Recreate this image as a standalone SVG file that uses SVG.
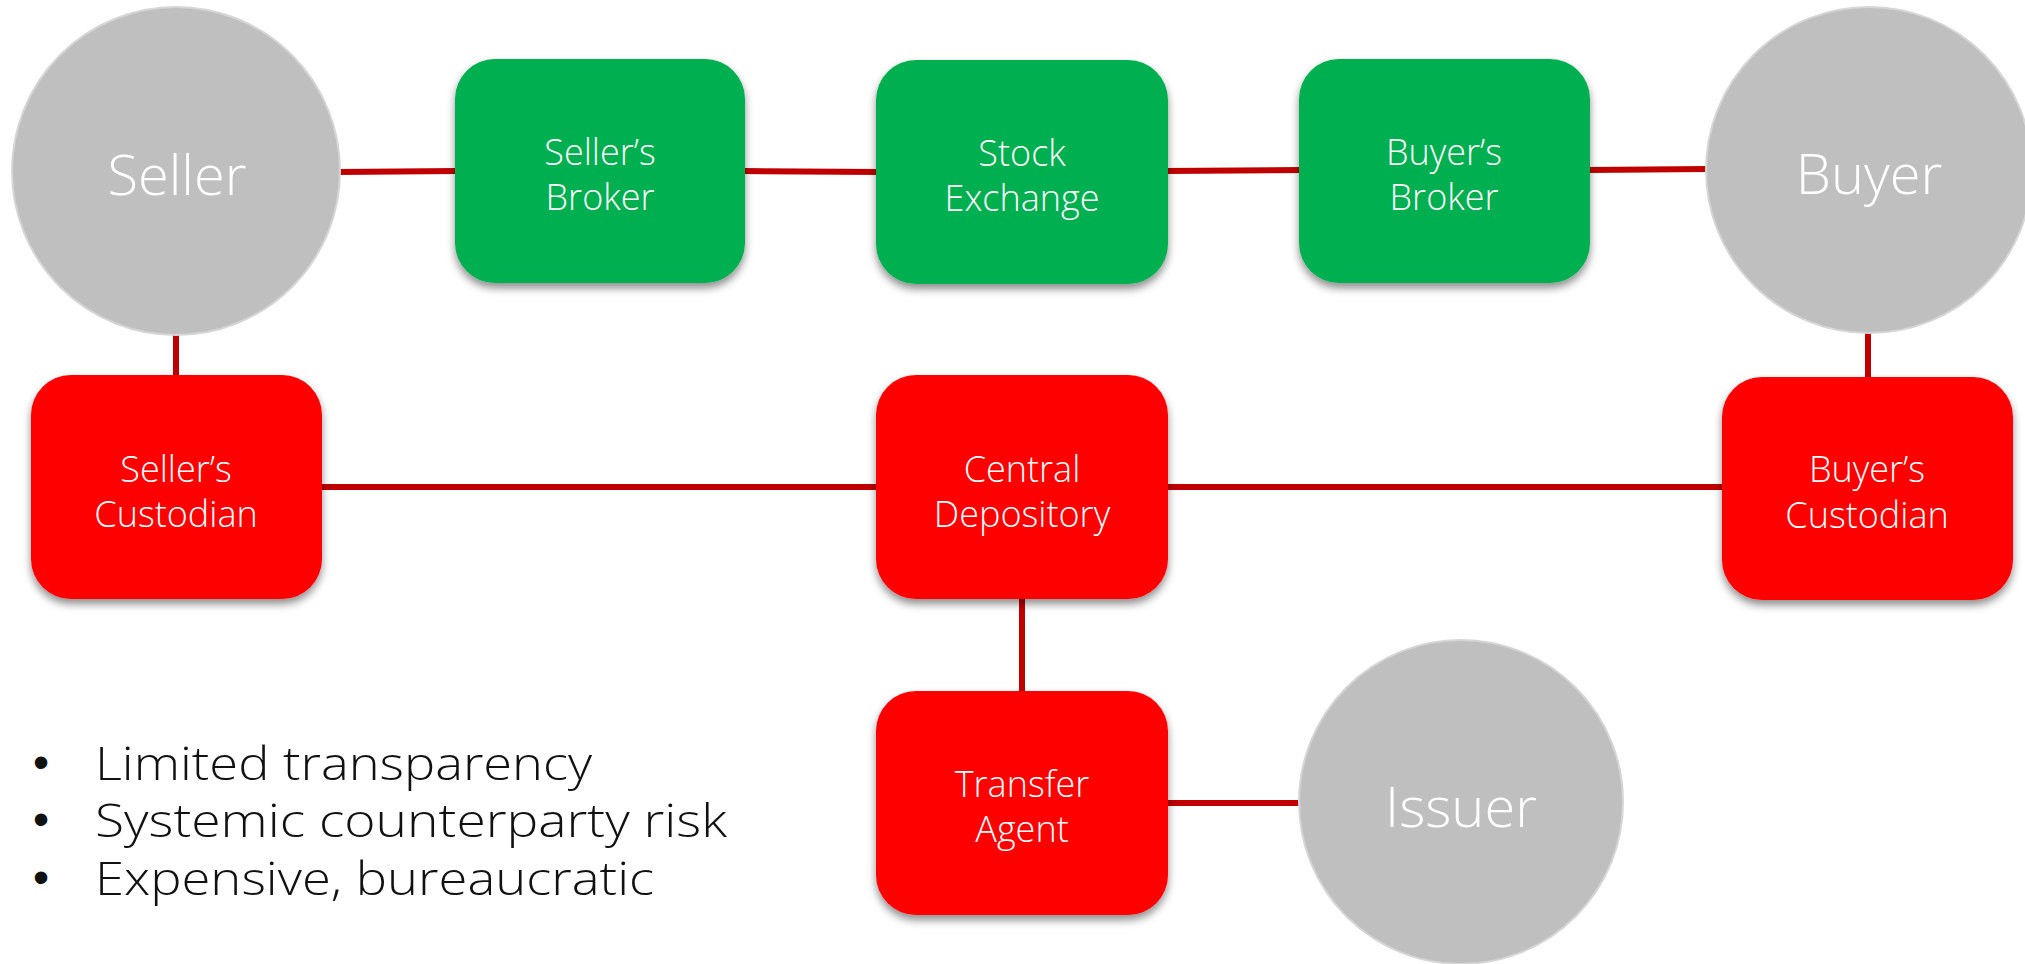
<svg xmlns="http://www.w3.org/2000/svg" width="2025" height="964" viewBox="0 0 2025 964">
  <defs>
    <filter id="shadow" x="-10%" y="-10%" width="120%" height="125%">
      <feDropShadow dx="0" dy="5" stdDeviation="4" flood-color="#000" flood-opacity="0.45"/>
    </filter>
    <style>
      .box-green { fill: #00AF50; filter: url(#shadow); }
      .box-red { fill: #FE0000; filter: url(#shadow); }
      .party { fill: #BFBFBF; stroke: #D6D6D6; stroke-width: 2; }
      .label { font-family: "Open Sans", Lato, sans-serif; font-weight: 300; fill: #FFFFFF; text-anchor: middle; }
      .box-label { font-size: 36px; }
      .party-label { font-size: 56px; }
      .link { stroke: #C00000; stroke-width: 6; fill: none; }
      .note { font-family: "Open Sans", Lato, sans-serif; font-weight: 300; font-size: 46px; fill: #111111; }
      .dot { font-family: "Liberation Sans", Arial, sans-serif; font-size: 46px; fill: #111111; }
    </style>
  </defs>

  <rect width="2025" height="964" fill="#FFFFFF"/>

  <!-- connectors -->
  <g id="connectors">
    <line class="link" x1="338" y1="172" x2="457" y2="171"/>
    <line class="link" x1="743" y1="171" x2="878" y2="172"/>
    <line class="link" x1="1166" y1="171" x2="1301" y2="170"/>
    <line class="link" x1="1588" y1="170" x2="1707" y2="169"/>
    <line class="link" x1="176" y1="333" x2="176" y2="377"/>
    <line class="link" x1="320" y1="487" x2="878" y2="487"/>
    <line class="link" x1="1166" y1="487" x2="1724" y2="487"/>
    <line class="link" x1="1868" y1="331" x2="1868" y2="379"/>
    <line class="link" x1="1022" y1="596" x2="1022" y2="693"/>
    <line class="link" x1="1166" y1="803" x2="1301" y2="803"/>
  </g>

  <!-- parties -->
  <g id="seller">
    <circle class="party" cx="176" cy="171" r="164"/>
    <text class="label party-label" x="177" y="195">Seller</text>
  </g>
  <g id="buyer">
    <circle class="party" cx="1869" cy="170" r="163"/>
    <text class="label party-label" x="1869" y="194">Buyer</text>
  </g>
  <g id="issuer">
    <circle class="party" cx="1461" cy="802" r="162"/>
    <text class="label party-label" x="1461" y="827">Issuer</text>
  </g>

  <!-- trading chain -->
  <g id="sellers-broker">
    <rect class="box-green" x="455" y="59" width="290" height="224" rx="40" ry="40"/>
    <text class="label box-label" x="600" y="165">Seller’s</text>
    <text class="label box-label" x="600" y="210">Broker</text>
  </g>
  <g id="stock-exchange">
    <rect class="box-green" x="876" y="60" width="292" height="224" rx="40" ry="40"/>
    <text class="label box-label" x="1022" y="166">Stock</text>
    <text class="label box-label" x="1022" y="211">Exchange</text>
  </g>
  <g id="buyers-broker">
    <rect class="box-green" x="1299" y="59" width="291" height="224" rx="40" ry="40"/>
    <text class="label box-label" x="1444" y="165">Buyer’s</text>
    <text class="label box-label" x="1444" y="210">Broker</text>
  </g>

  <!-- settlement chain -->
  <g id="sellers-custodian">
    <rect class="box-red" x="31" y="375" width="291" height="224" rx="40" ry="40"/>
    <text class="label box-label" x="176" y="482">Seller’s</text>
    <text class="label box-label" x="176" y="527">Custodian</text>
  </g>
  <g id="central-depository">
    <rect class="box-red" x="876" y="375" width="292" height="224" rx="40" ry="40"/>
    <text class="label box-label" x="1022" y="482">Central</text>
    <text class="label box-label" x="1022" y="527">Depository</text>
  </g>
  <g id="buyers-custodian">
    <rect class="box-red" x="1722" y="377" width="291" height="223" rx="40" ry="40"/>
    <text class="label box-label" x="1867" y="482">Buyer’s</text>
    <text class="label box-label" x="1867" y="528">Custodian</text>
  </g>
  <g id="transfer-agent">
    <rect class="box-red" x="876" y="691" width="292" height="224" rx="40" ry="40"/>
    <text class="label box-label" x="1022" y="797">Transfer</text>
    <text class="label box-label" x="1022" y="842">Agent</text>
  </g>

  <!-- drawbacks list -->
  <g id="drawbacks">
    <text class="dot" x="33" y="778">•</text>
    <text class="note" x="95" y="780" textLength="497" lengthAdjust="spacingAndGlyphs">Limited transparency</text>
    <text class="dot" x="33" y="835">•</text>
    <text class="note" x="95" y="837" textLength="632" lengthAdjust="spacingAndGlyphs">Systemic counterparty risk</text>
    <text class="dot" x="33" y="893">•</text>
    <text class="note" x="95" y="895" textLength="559" lengthAdjust="spacingAndGlyphs">Expensive, bureaucratic</text>
  </g>
</svg>
